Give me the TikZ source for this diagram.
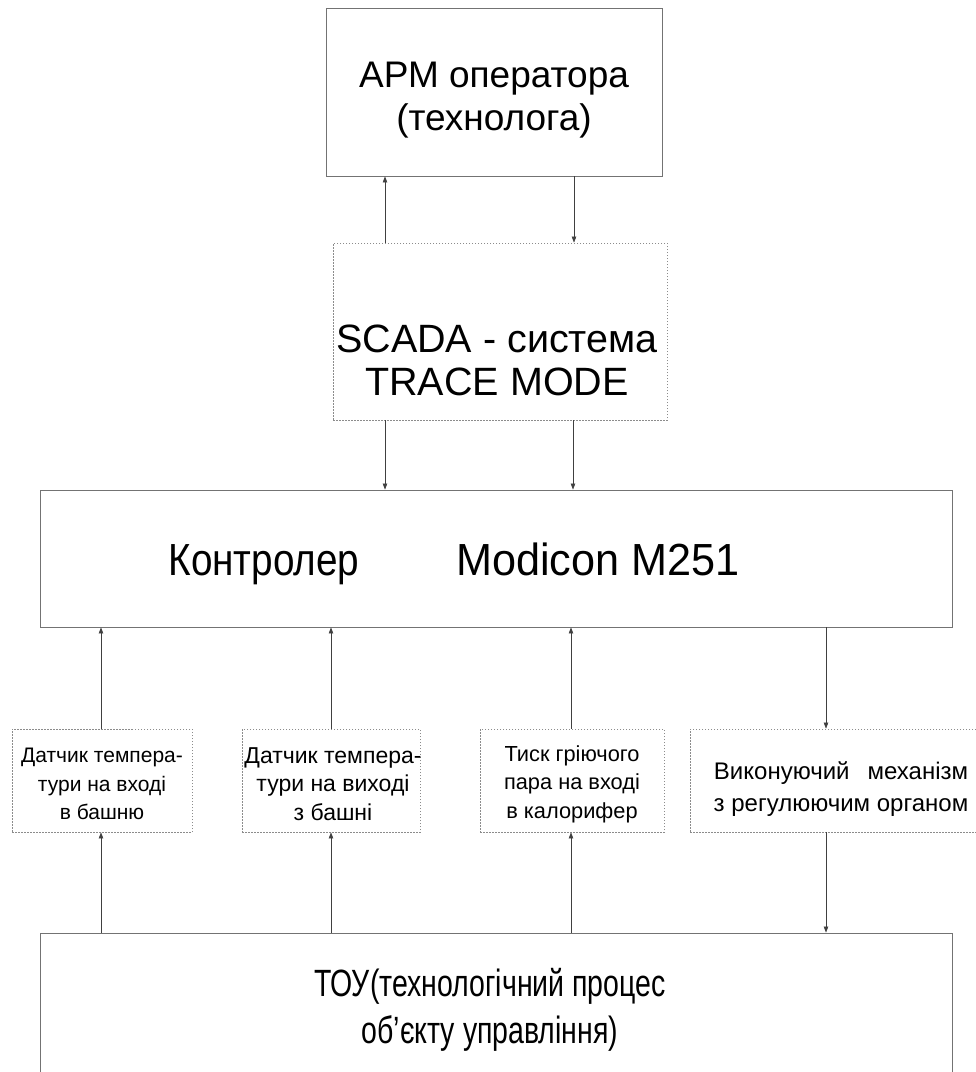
\documentclass[tikz,border=0pt]{standalone}
\usepackage{fontspec}
\setmainfont{Liberation Sans}
\usetikzlibrary{arrows.meta}
\begin{document}
\begin{tikzpicture}[x=1pt,y=-1pt,
  solidbox/.style={draw=black!55,line width=0.9pt,inner sep=0pt},
  dotbox/.style={draw=black!45,line width=0.8pt,dash pattern=on 1.5pt off 1.5pt,inner sep=0pt},
  arr/.style={draw=black!75,line width=0.6pt,-{Triangle[length=6pt,width=4.5pt]}},
  txt/.style={align=center,inner sep=0pt},
  apmfont/.style={txt,font=\fontsize{37}{43}\selectfont},
  scadafont/.style={txt,font=\fontsize{39.5}{43}\selectfont},
  plcfont/.style={txt,anchor=base,font=\fontsize{45}{50}\selectfont},
  toufont/.style={txt,font=\fontsize{38}{47}\selectfont},
  sensfont/.style={txt,font=\fontsize{#1}{28.5}\selectfont},
  actfont/.style={txt,font=\fontsize{24}{32}\selectfont}]
\useasboundingbox (0,0) rectangle (976,1072);
\clip (0,0) rectangle (976,1072);
% boxes
\node[solidbox,minimum width=336pt,minimum height=168pt] (apm) at (494,92) {};
\node[dotbox,minimum width=334pt,minimum height=177pt] (scada) at (500,331.5) {};
\node[solidbox,minimum width=912pt,minimum height=137pt] (plc) at (496,558.5) {};
\node[dotbox,minimum width=180pt,minimum height=103pt] (s1) at (102,780.5) {};
\node[dotbox,minimum width=178pt,minimum height=103pt] (s2) at (331,780.5) {};
\node[dotbox,minimum width=184pt,minimum height=103pt] (s3) at (572,780.5) {};
\node[dotbox,minimum width=300pt,minimum height=103pt] (s4) at (840,780.5) {};
\node[solidbox,minimum width=912pt,minimum height=170pt] (tou) at (496,1018) {};
% texts
\node[apmfont] (apmt) at (494,100) {АРМ оператора\\(технолога)};
\node[scadafont] (scadat) at (497,360) {SCADA - система\\TRACE MODE};
\node[plcfont] (plct1) at (264,575) {\scalebox{0.86}[1]{Контролер}};
\node[plcfont] (plct2) at (598,575) {\scalebox{0.96}[1]{Modicon M251}};
\node[sensfont=21] (s1t) at (102,784) {Датчик темпера-\\тури на вході\\в башню};
\node[sensfont=23] (s2t) at (333,784) {Датчик темпера-\\тури на виході\\з башні};
\node[sensfont=21.8] (s3t) at (572,784) {Тиск гріючого\\пара на вході\\в калорифер};
\node[actfont] (s4t) at (841,789) {Виконуючий\hspace{18pt}механізм\\з регулюючим органом};
\node[toufont] (tout) at (490,1010) {\scalebox{0.75}[1]{ТОУ(технологічний процес}\\\scalebox{0.75}[1]{об’єкту управління)}};
% connectors
\draw[arr] ([xshift=-115pt]scada.north) -- ([xshift=-109pt]apm.south);
\draw[arr] ([xshift=80pt]apm.south) -- ([xshift=74pt]scada.north);
\draw[arr] ([xshift=-115pt]scada.south) -- ([xshift=-111pt]plc.north);
\draw[arr] ([xshift=73pt]scada.south) -- ([xshift=77pt]plc.north);
\draw[arr] ([xshift=-1pt]s1.north) -- ([xshift=-395pt]plc.south);
\draw[arr] (s2.north) -- ([xshift=-165pt]plc.south);
\draw[arr] ([xshift=-1pt]s3.north) -- ([xshift=75pt]plc.south);
\draw[arr] ([xshift=330pt]plc.south) -- ([xshift=-14pt]s4.north);
\draw[arr] ([xshift=-395pt]tou.north) -- ([xshift=-1pt]s1.south);
\draw[arr] ([xshift=-165pt]tou.north) -- (s2.south);
\draw[arr] ([xshift=75pt]tou.north) -- ([xshift=-1pt]s3.south);
\draw[arr] ([xshift=-14pt]s4.south) -- ([xshift=330pt]tou.north);
\end{tikzpicture}
\end{document}
